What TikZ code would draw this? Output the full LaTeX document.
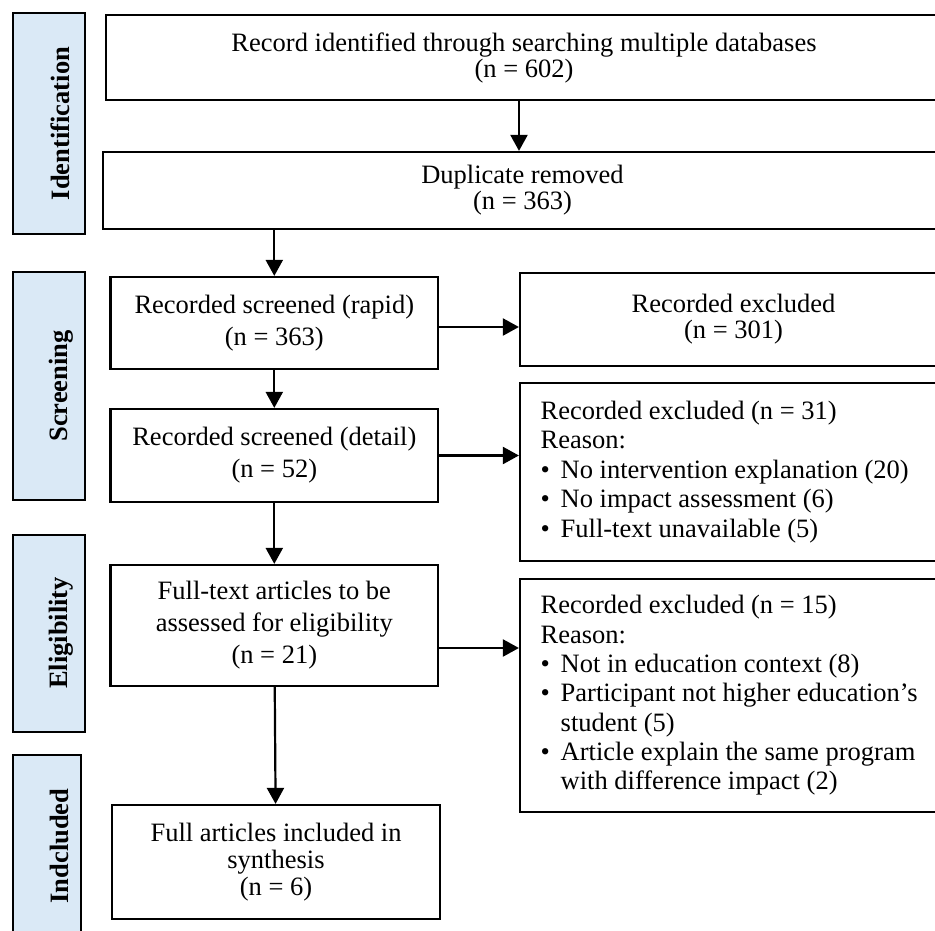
\documentclass[tikz,border=0pt]{standalone}
\usepackage{fontspec}
\setmainfont{Liberation Serif}
\usetikzlibrary{arrows.meta}

\definecolor{phaseblue}{RGB}{218,233,246}
\newcommand{\bul}{\makebox[20pt][l]{\textbullet}}
\newcommand{\hang}{\hspace*{20pt}}

\begin{document}
\begin{tikzpicture}[x=1pt,y=-1pt]

  \tikzstyle{box} = [draw, line width=2.2pt, inner sep=0pt, align=center, font=\fontsize{26.5}{26}\selectfont]
  \tikzstyle{phase} = [draw, line width=2.4pt, fill=phaseblue]
  \tikzstyle{phaselabel} = [rotate=90, inner sep=0pt, font=\bfseries\fontsize{26.5}{26}\selectfont]
  \tikzstyle{flow} = [line width=2.2pt, -{Triangle[width=17pt,length=16pt]}]

  \useasboundingbox (0,0) rectangle (935,931);

  % phases
  \draw[phase] (12.7,13) rectangle (85,234);
  \node[phaselabel] (ident) at (60,123.5) {Identification};

  \draw[phase] (12.7,272) rectangle (85,500);
  \node[phaselabel] (screen) at (61,386) {Screening};

  \draw[phase] (12.7,535) rectangle (85,732);
  \node[phaselabel] (eligib) at (61,633) {Eligibility};

  \draw[phase] (12.7,755) rectangle (81,950);
  \node[phaselabel] (includ) at (59,846) {Indcluded};

  % main column
  \node[box, minimum width=836pt, minimum height=85pt] (rec) at (524,57.5)
    {Record identified through searching multiple databases\\(n = 602)};
  \node[box, minimum width=839pt, minimum height=77pt] (dup) at (522.5,190.5)
    {Duplicate removed\\(n = 363)};

  \node[box, minimum width=327.5pt, minimum height=92pt, font=\fontsize{26.5}{32}\selectfont] (rapid) at (274.3,323)
    {Recorded screened (rapid)\\(n = 363)};
  \node[box, minimum width=327.5pt, minimum height=93pt, font=\fontsize{26.5}{32}\selectfont] (detail) at (274.3,455.5)
    {Recorded screened (detail)\\(n = 52)};
  \node[box, minimum width=327.5pt, minimum height=121pt, font=\fontsize{26.5}{32}\selectfont] (elig) at (274.3,625.5)
    {Full-text articles to be\\assessed for eligibility\\(n = 21)};
  \node[box, minimum width=328pt, minimum height=114pt, font=\fontsize{26.5}{26.7}\selectfont] (incl) at (276,862)
    {Full articles included in\\synthesis\\(n = 6)};

  % excluded
  \node[box, minimum width=427pt, minimum height=93pt] (exclA) at (733.5,319.5)
    {Recorded excluded\\(n = 301)};
  \node[box, minimum width=427pt, minimum height=178pt, text width=385.6pt, align=flush left, font=\fontsize{26.5}{29.5}\selectfont] (exclB) at (733.5,472)
    {Recorded excluded (n = 31)\\Reason:\\
     \bul No intervention explanation (20)\\
     \bul No impact assessment (6)\\
     \bul Full-text unavailable (5)};
  \node[box, minimum width=427pt, minimum height=233pt, text width=385.6pt, align=flush left, font=\fontsize{26.5}{29.3}\selectfont] (exclC) at (733.5,695.5)
    {Recorded excluded (n = 15)\\Reason:\\
     \bul Not in education context (8)\\
     \bul Participant not higher education’s\\
     \hang student (5)\\
     \bul Article explain the same program\\
     \hang with difference impact (2)};

  % arrows
  \draw[flow] ([xshift=-5pt]rec.south) -- ([xshift=-5pt]rec.south |- dup.north);
  \draw[flow] (dup.south -| rapid) -- (rapid.north);
  \draw[flow] (rapid) -- (detail);
  \draw[flow] (detail) -- (elig);
  \draw[flow] (elig) -- (incl);

  \draw[flow] ([yshift=-4pt]rapid.east) -- ([yshift=-4pt]rapid.east -| exclA.west);
  \draw[flow] (detail.east) -- (detail.east -| exclB.west);
  \draw[flow] ([yshift=-22.5pt]elig.east) -- ([yshift=-22.5pt]elig.east -| exclC.west);

\end{tikzpicture}
\end{document}
